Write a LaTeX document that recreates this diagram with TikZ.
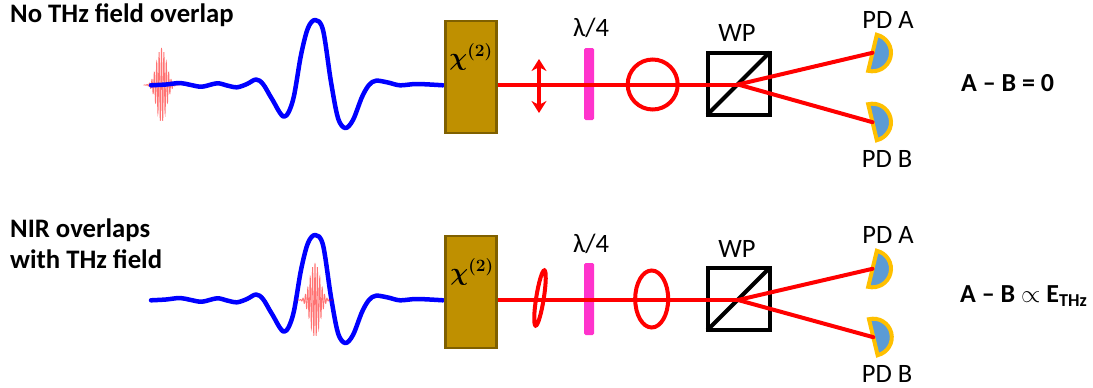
\documentclass[tikz,border=0pt]{standalone}
\usepackage{fontspec}
\setmainfont{Carlito}
\usetikzlibrary{arrows.meta}
\definecolor{crystalfill}{HTML}{BF9000}
\definecolor{crystaledge}{HTML}{7F6000}
\definecolor{plate}{HTML}{FF33CC}
\definecolor{pdblue}{HTML}{5B9BD5}
\definecolor{pdgold}{HTML}{FFC000}
\tikzset{
  crystalbox/.style={draw=crystaledge,fill=crystalfill,line width=2.5pt,minimum width=51pt,minimum height=112pt,inner sep=0pt},
  platebox/.style={fill=plate,rounded corners=1.5pt,minimum width=10pt,minimum height=72pt,inner sep=0pt},
  wpbox/.style={draw=black,line width=4pt,minimum width=62pt,minimum height=62pt,inner sep=0pt},
  wpdiag/.style={draw=black,line width=4pt,shorten <=2.5pt,shorten >=2.5pt},
  beam/.style={draw=red,line width=4pt},
  pol/.style={draw=red,line width=4pt},
  thz/.style={draw=blue,line width=4.5pt,line join=round,line cap=round},
  nir/.style={draw=red,line width=0.8pt,opacity=0.55},
  pdshape/.style={draw=pdgold,fill=pdblue,line width=4pt,line join=miter},
  lab/.style={font=\fontsize{26.5}{27}\selectfont,inner sep=0pt},
  head/.style={font=\fontsize{26.7}{31}\selectfont\bfseries,inner sep=0pt,align=left,anchor=west},
  res/.style={font=\fontsize{26}{28}\selectfont\bfseries,inner sep=0pt,anchor=west},
  chi/.style={font=\fontsize{24.5}{26}\selectfont\boldmath,inner sep=0pt},
}
\newcommand{\nirpulse}[2]{%
  \draw[nir] plot[domain=-18:18,samples=361,smooth] ({#1+\x},{#2+37*exp(-(\x/7)*(\x/7))*cos(\x*150)});
}
\newcommand{\thzwave}[1]{%
  \begin{scope}[yshift=#1]
  \draw[thz] plot[smooth,tension=0.55] coordinates {(151,-85.3)(166,-84.5)(180,-83)(191,-85)(202,-86.7)(217,-83.3)(227,-85.5)(237,-87.3)(247,-84)(256,-79.5)(263,-84)(272,-99)(284,-116.7)(293,-100)(301,-55)(308,-28)(315.3,-20)(323,-30)(331,-82)(338,-118)(345.3,-128)(353,-120)(362,-97)(369,-85)(376,-80.7)(388,-82.5)(400,-85.3)(417,-84)(443,-85.3)};
  \end{scope}
}
\newcommand{\pddet}[4]{%
  \begin{scope}[shift={(#1,#2)},rotate=#3]
  \path[pdshape] (0,18.5) arc[start angle=90,end angle=-90,radius=18.5] -- cycle;
  \coordinate (#4) at (0,0);
  \end{scope}
}
\begin{document}
\begin{tikzpicture}[x=1pt,y=1pt]
\useasboundingbox (0,0) rectangle (1093,-388);

% ---------- top row
\node[head] (t1) at (10,-15) {No THz field overlap};
\nirpulse{161.5}{-85}
\thzwave{0pt}
\node[crystalbox] (c1) at (471,-77) {};
\node[chi] (x1) at (471,-57) {$\chi^{(2)}$};
\node[platebox] (p1) at (589,-84) {};
\node[wpbox] (w1) at (738.5,-83.5) {};
\draw[wpdiag] (w1.south west) -- (w1.north east);
\coordinate (b1) at (738,-84.5);
\draw[pol] (652.7,-84.5) circle[radius=25];
\pddet{872.5}{-52.8}{-13.5}{a1}
\pddet{872.5}{-122.2}{13.5}{b1d}
\draw[beam] (c1.east |- b1) -- (b1);
\draw[beam,line cap=round] (b1) -- (a1);
\draw[beam,line cap=round] (b1) -- (b1d);
\coordinate (u1) at (539,-59);
\coordinate (d1) at (539,-113);
\draw[red,line width=3.5pt,{Stealth[length=12pt,width=15pt]}-{Stealth[length=12pt,width=15pt]}] (u1) -- (d1);
\node[lab] (l1) at (591,-28) {λ/4};
\node[lab] (wl1) at (737,-33) {WP};
\node[lab] (pa1) at (888,-20) {PD A};
\node[lab] (pb1) at (887,-159) {PD B};
\node[res] (r1) at (961,-83) {A – B = 0};

% ---------- bottom row
\node[head] (t2) at (10,-244) {NIR overlaps\\with THz field};
\thzwave{-215pt}
\nirpulse{315}{-300}
\node[crystalbox] (c2) at (471,-292) {};
\node[chi] (x2) at (472,-272) {$\chi^{(2)}$};
\node[platebox] (p2) at (589,-299) {};
\node[wpbox] (w2) at (738.5,-299) {};
\draw[wpdiag] (w2.south west) -- (w2.north east);
\coordinate (b2) at (738,-300);
\draw[pol,rotate around={-9:(540,-298)}] (540,-298) ellipse[x radius=3.8,y radius=28];
\draw[pol] (651.7,-299) ellipse[x radius=16.5,y radius=28.5];
\pddet{872.5}{-268.8}{-13.5}{a2}
\pddet{873.3}{-337.2}{13.5}{b2d}
\draw[beam] (c2.east |- b2) -- (b2);
\draw[beam,line cap=round] (b2) -- (a2);
\draw[beam,line cap=round] (b2) -- (b2d);
\node[lab] (l2) at (591,-244) {λ/4};
\node[lab] (wl2) at (737,-249) {WP};
\node[lab] (pa2) at (888,-235) {PD A};
\node[lab] (pb2) at (887,-374) {PD B};
\node[res] (r2) at (960,-296) {A – B $\propto$ E\textsubscript{THz}};
\end{tikzpicture}
\end{document}
